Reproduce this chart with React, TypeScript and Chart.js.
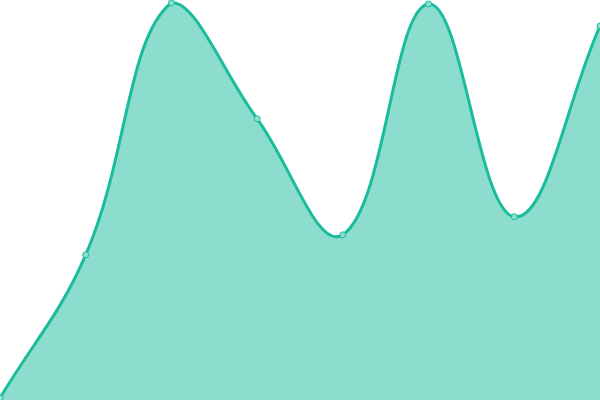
import React, { useEffect, useRef } from "react";
import { Chart, registerables } from "chart.js";

Chart.register(...registerables);

const labels = ["A", "B", "C", "D", "E", "F", "G", "H"];
const values = [0.5, 36.3, 99.3, 70.3, 41.3, 99.0, 45.8, 93.5];

export default function App() {
  const ref = useRef<HTMLCanvasElement | null>(null);
  useEffect(() => {
    document.body.style.margin = "0";
    document.body.style.overflow = "hidden";
    const chart = new Chart(ref.current!, {
      type: "line",
      data: {
        labels,
        datasets: [
          {
            data: values,
            fill: true,
            backgroundColor: "rgba(26,188,156,0.5)",
            borderColor: "#1abc9c",
            borderWidth: 3,
            tension: 0.4,
            pointRadius: 3,
            pointBorderWidth: 1,
            pointHoverRadius: 4,
            pointHoverBorderWidth: 1,
            pointBackgroundColor: "rgba(140,224,207,1)",
            pointBorderColor: "#1abc9c",
          },
        ],
      },
      options: {
        animation: false,
        responsive: false,
        layout: { padding: 0 },
        plugins: { legend: { display: false }, tooltip: { enabled: false } },
        scales: {
          x: { display: false, offset: false },
          y: { display: false, min: 0, max: 100 },
        },
      },
    });
    return () => chart.destroy();
  }, []);
  return (
    <div style={{ position: "fixed", left: -5, top: -5, width: 610, height: 410 }}>
      <canvas ref={ref} width={610} height={410} style={{ width: 610, height: 410 }} />
    </div>
  );
}
